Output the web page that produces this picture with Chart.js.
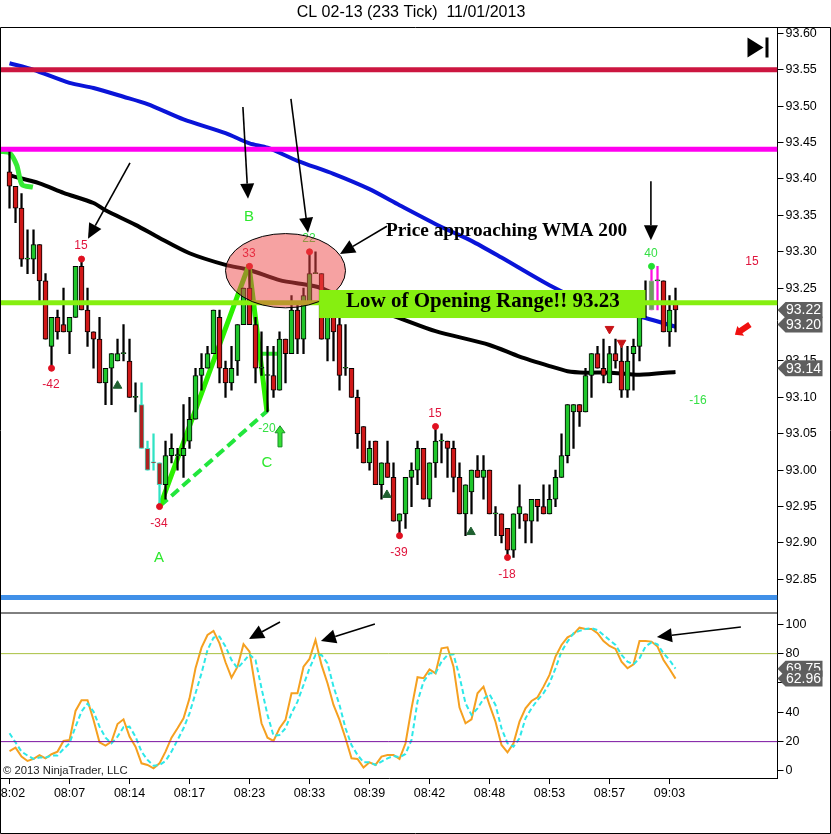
<!DOCTYPE html>
<html>
<head>
<meta charset="utf-8">
<title>CL 02-13 (233 Tick)</title>
<script src="https://cdn.jsdelivr.net/npm/chart.js@4"></script>
<style>
    html, body { margin: 0; padding: 0; background: #fff; }
    canvas { display: block; }
</style>
</head>
<body>
<canvas id="grafico" width="831" height="834"></canvas>
<script>
const timeLabels = ["08:02", "08:07", "08:14", "08:17", "08:23", "08:33", "08:39", "08:42", "08:48", "08:53", "08:57", "09:03"];

const opens = [
    93.41, 93.39, 93.36, 93.29, 93.29, 93.31, 93.26, 93.17, 93.21, 93.20,
    93.19, 93.21, 93.28, 93.22, 93.19, 93.18, 93.12, 93.14, 93.15, 93.16,
    93.15, 93.10, 93.09, 93.03, 93.01, 93.01, 92.98, 93.02, 93.02, 93.02,
    93.04, 93.07, 93.13, 93.14, 93.16, 93.21, 93.14, 93.12, 93.15, 93.20,
    93.25, 93.20, 93.14, 93.13, 93.13, 93.11, 93.18, 93.16, 93.22, 93.18,
    93.23, 93.27, 93.27, 93.18, 93.23, 93.20, 93.14, 93.14, 93.10, 93.06,
    93.01, 93.04, 92.98, 93.01, 92.99, 92.93, 92.94, 92.99, 93.00, 93.03,
    92.96, 93.01, 93.04, 93.04, 93.03, 92.99, 92.94, 92.97, 93.00, 92.99,
    93.00, 92.94, 92.94, 92.92, 92.89, 92.94, 92.94, 92.93, 92.96, 92.95,
    92.94, 92.96, 92.99, 93.02, 93.08, 93.09, 93.08, 93.13, 93.16, 93.14,
    93.12, 93.16, 93.15, 93.11, 93.16, 93.17, 93.23, 93.22, 93.26, 93.26,
    93.19, 93.23
];
const closes = [
    93.39, 93.36, 93.29, 93.29, 93.31, 93.26, 93.18, 93.21, 93.19, 93.19,
    93.21, 93.28, 93.22, 93.19, 93.18, 93.12, 93.14, 93.16, 93.16, 93.16,
    93.10, 93.10, 93.03, 93.00, 93.01, 92.98, 93.02, 93.03, 93.02, 93.03,
    93.07, 93.13, 93.14, 93.16, 93.22, 93.14, 93.12, 93.14, 93.20, 93.25,
    93.20, 93.14, 93.14, 93.13, 93.11, 93.18, 93.16, 93.22, 93.18, 93.24,
    93.27, 93.27, 93.18, 93.22, 93.19, 93.13, 93.14, 93.10, 93.05, 93.01,
    93.03, 92.98, 93.01, 92.99, 92.93, 92.94, 92.99, 93.00, 93.03, 92.96,
    93.01, 93.04, 93.04, 93.03, 92.99, 92.94, 92.98, 93.00, 92.99, 93.00,
    92.94, 92.94, 92.91, 92.89, 92.94, 92.95, 92.93, 92.96, 92.95, 92.94,
    92.96, 92.99, 93.02, 93.09, 93.09, 93.08, 93.13, 93.16, 93.14, 93.13,
    93.16, 93.15, 93.11, 93.15, 93.17, 93.22, 93.23, 93.26, 93.26, 93.19,
    93.22, 93.22
];
const highs = [
    93.44, 93.39, 93.38, 93.33, 93.33, 93.31, 93.27, 93.21, 93.22, 93.25,
    93.21, 93.28, 93.29, 93.25, 93.19, 93.21, 93.14, 93.16, 93.18, 93.20,
    93.18, 93.12, 93.12, 93.04, 93.05, 93.01, 93.04, 93.05, 93.03, 93.09,
    93.10, 93.14, 93.16, 93.17, 93.22, 93.22, 93.15, 93.17, 93.20, 93.25,
    93.28, 93.21, 93.19, 93.17, 93.17, 93.19, 93.18, 93.24, 93.23, 93.25,
    93.30, 93.30, 93.27, 93.23, 93.23, 93.21, 93.20, 93.14, 93.11, 93.06,
    93.04, 93.04, 93.01, 93.04, 93.01, 92.94, 92.99, 93.01, 93.04, 93.03,
    93.01, 93.06, 93.05, 93.04, 93.04, 93.01, 92.98, 93.00, 93.02, 93.02,
    93.00, 92.95, 92.94, 92.92, 92.94, 92.98, 92.94, 92.96, 92.96, 92.98,
    92.98, 93.00, 93.05, 93.09, 93.09, 93.09, 93.14, 93.16, 93.17, 93.18,
    93.17, 93.18, 93.17, 93.17, 93.18, 93.22, 93.26, 93.28, 93.28, 93.26,
    93.24, 93.25
];
const lows = [
    93.36, 93.34, 93.28, 93.27, 93.27, 93.23, 93.18, 93.14, 93.18, 93.19,
    93.16, 93.21, 93.22, 93.17, 93.14, 93.12, 93.09, 93.09, 93.15, 93.15,
    93.10, 93.08, 93.03, 93.00, 93.00, 92.95, 92.96, 93.01, 93.00, 92.99,
    93.03, 93.07, 93.11, 93.14, 93.16, 93.12, 93.10, 93.11, 93.13, 93.20,
    93.20, 93.12, 93.13, 93.08, 93.10, 93.11, 93.12, 93.16, 93.16, 93.16,
    93.23, 93.27, 93.18, 93.15, 93.15, 93.11, 93.13, 93.10, 93.03, 93.01,
    93.00, 92.98, 92.96, 92.99, 92.93, 92.91, 92.92, 92.95, 92.98, 92.96,
    92.95, 92.99, 93.01, 92.99, 92.97, 92.94, 92.91, 92.94, 92.99, 92.96,
    92.94, 92.91, 92.90, 92.88, 92.88, 92.92, 92.90, 92.90, 92.93, 92.94,
    92.94, 92.95, 92.99, 93.01, 93.03, 93.06, 93.08, 93.10, 93.14, 93.12,
    93.12, 93.14, 93.10, 93.10, 93.11, 93.15, 93.21, 93.22, 93.22, 93.19,
    93.17, 93.19
];

const wmaBlueBars = [0, 4, 10, 14, 19, 23, 29, 36, 40, 43, 48, 54, 60, 65, 72, 77, 82, 90, 96, 102, 106, 111];
const wmaBlue = [93.559, 93.55, 93.532, 93.525, 93.513, 93.503, 93.482, 93.463, 93.449, 93.443, 93.425, 93.407, 93.386, 93.364, 93.334, 93.315, 93.292, 93.254, 93.231, 93.216, 93.209, 93.197];
const wmaBlackBars = [0, 5, 9, 14, 16, 21, 25, 30, 36, 40, 45, 50, 52, 57, 65, 71, 80, 85, 90, 93, 96, 100, 105, 111];
const wmaBlack = [93.405, 93.394, 93.381, 93.367, 93.357, 93.337, 93.319, 93.298, 93.282, 93.275, 93.261, 93.254, 93.25, 93.232, 93.209, 93.191, 93.172, 93.156, 93.143, 93.136, 93.134, 93.134, 93.131, 93.135];

const stochK = [
    13.6, 15.9, 9.8, 6.8, 8.2, 10.7, 8.6, 11.4, 13.2, 20.5,
    21.1, 40.9, 48.2, 48.2, 34.8, 19.5, 17.3, 20, 32, 35.2,
    23.4, 16.6, 5.2, 4.1, 1.8, 5.2, 13.2, 22.7, 29.1, 35.9,
    49.5, 70, 84.1, 92.7, 95.5, 87, 74.1, 63.6, 71.1, 86.4,
    81.4, 56.4, 32.5, 22.7, 20.5, 29.1, 34.8, 53, 53, 71.1,
    76.4, 89.3, 72.3, 59.8, 45, 34.8, 22.3, 8.6, 8.2, 2.3,
    5.9, 4.1, 9.8, 10.9, 10.9, 8.2, 18.9, 42.7, 63.9, 63.2,
    69.3, 66.6, 83.6, 84.3, 71.1, 43.2, 32.5, 35.2, 53, 57.5,
    45, 33.6, 17.7, 12.7, 18.9, 33.6, 42.7, 47.7, 50.2, 57.5,
    65.5, 78, 85.9, 91.1, 93.2, 97.7, 96.8, 96.8, 93.9, 88.6,
    85.2, 83.2, 74.5, 70, 72.7, 88.6, 88.6, 88.2, 84.8, 75.7,
    69.5, 62.96
];
const stochD = [
    25.7, 19.5, 13.2, 10.5, 8.2, 9.1, 9.1, 10.5, 10.5, 15,
    18.9, 30.2, 40.5, 45.9, 40.5, 30.2, 22.7, 18.9, 23.4, 29.8,
    30.2, 23.4, 13.2, 7.5, 3.6, 4.1, 6.8, 13.2, 21.1, 29.1,
    39.3, 53, 66.6, 82.5, 90.9, 91.6, 84.8, 75.7, 70, 74.5,
    79.5, 75.7, 56.4, 38.2, 24.1, 24.5, 29.1, 39.3, 47.3, 58.6,
    70, 79.1, 79.1, 73.4, 57.5, 45, 29.1, 17.7, 10.9, 5.9,
    5.9, 4.1, 6.4, 8.6, 10.2, 9.3, 11.6, 21.1, 47.3, 60.9,
    66.6, 66.6, 74.5, 79.1, 79.5, 64.3, 46.1, 38.2, 42.7, 49.1,
    52.3, 45, 29.1, 18.9, 16.6, 22.3, 35.9, 42.7, 48.4, 53,
    59.8, 70, 81.4, 88.2, 93.9, 95.5, 96.8, 97.3, 96.1, 92.7,
    89.3, 85.9, 79.1, 74.5, 72.7, 76.8, 84.8, 87.7, 86.4, 80.2,
    75.7, 69.75
];

// niveles horizontales
const levelRed = 93.55;
const levelMagenta = 93.441;
const levelLime = 93.23;
const levelBlue = 92.825;
const stochUpper = 80;
const stochLower = 20;

// ABC dibujado a mano
const abcBars = [25.1, 39.9, 42.9];
const abcPrices = [92.951, 93.282, 93.081];
const hookBars = [-1.5, 0, 1.2, 2.1, 3.9];
const hookPrices = [93.438, 93.436, 93.419, 93.392, 93.389];
const stubBars = [41.9, 45.1];
const stubPrices = [93.16, 93.16];

const redDotBars = [7, 12, 25, 40, 50, 65, 71, 83];
const redDotPrices = [93.14, 93.29, 92.95, 93.28, 93.30, 92.91, 93.06, 92.88];
const greenDotBars = [107];
const greenDotPrices = [93.28];
const upMarkBars = [18, 62.9, 76.9];
const upMarkPrices = [93.116, 92.966, 92.915];
const downMarkBars = [100, 102];
const downMarkPrices = [93.194, 93.175];

const swingTexts = ["15", "33", "22", "-42", "-34", "-39", "15", "-18", "15", "-20", "40", "-16"];
const swingBars = [11.9, 39.9, 49.9, 6.9, 24.9, 64.9, 70.9, 82.9, 123.75, 42.9, 106.9, 114.75];
const swingPrices = [93.308, 93.298, 93.318, 93.117, 92.926, 92.886, 93.077, 92.856, 93.286, 93.057, 93.298, 93.096];
const swingGreen = ["22", "-20", "40", "-16"];

const abcTexts = ["A", "B", "C"];
const abcTextBars = [24.9, 39.9, 42.9];
const abcTextPrices = [92.88, 93.348, 93.01];

// flechas: barra y valor de cola, barra y valor de punta
const priceArrows = [
    [20.08, 93.422, 13.08, 93.318],
    [38.9, 93.499, 39.75, 93.373],
    [46.9, 93.51, 49.75, 93.326],
    [62.9, 93.335, 55.08, 93.297],
    [106.9, 93.397, 106.9, 93.316]
];
const stochArrows = [
    [45.08, 101.6, 39.9, 90],
    [60.9, 100.2, 51.9, 88.6],
    [121.9, 98.2, 107.9, 91.3]
];

const priceTags = [93.22, 93.20, 93.14];
const stochTags = [69.75, 62.96];

const barList = opens.map((_, i) => i);
const turquoiseBars = [22, 23, 24, 25];
const magentaBars = [107, 108];

function puntos(xs, ys) {
    return xs.map((x, i) => ({ x, y: ys[i] }));
}

function lineaNivel(value, color, width, yAxisID, order) {
    return {
        type: 'line',
        data: [{ x: -2, y: value }, { x: 128, y: value }],
        borderColor: color,
        borderWidth: width,
        pointRadius: 0,
        yAxisID,
        order
    };
}

function marcas(data, color, radius, style, rotation, order) {
    return {
        type: 'line',
        data,
        showLine: false,
        pointStyle: style,
        rotation,
        pointRadius: radius,
        pointBackgroundColor: color,
        pointBorderColor: color,
        yAxisID: 'price',
        order
    };
}

function curva(data, color, width, yAxisID, order, extra) {
    return Object.assign({
        type: 'line',
        data,
        borderColor: color,
        borderWidth: width,
        pointRadius: 0,
        tension: 0.25,
        yAxisID,
        order
    }, extra);
}

function colorMecha(i) {
    if (turquoiseBars.includes(i)) return '#2fe3c4';
    if (magentaBars.includes(i)) return '#ff10e0';
    return '#000';
}

function colorCuerpo(i) {
    if (i === 107) return '#6f9e5f';
    if (turquoiseBars.includes(i)) return '#b0211f';
    return closes[i] >= opens[i] ? '#1fc62b' : '#d01818';
}

function bordeCuerpo(i) {
    if (i === 107) return '#9a9a9a';
    if (turquoiseBars.includes(i)) return '#45d8c0';
    return '#000';
}

function dibujarFlecha(ctx, x1, y1, x2, y2) {
    const ang = Math.atan2(y2 - y1, x2 - x1);
    const largo = 15;
    const ancho = 7;
    const bx = x2 - Math.cos(ang) * largo;
    const by = y2 - Math.sin(ang) * largo;
    ctx.strokeStyle = '#000';
    ctx.fillStyle = '#000';
    ctx.lineWidth = 1.6;
    ctx.beginPath();
    ctx.moveTo(x1, y1);
    ctx.lineTo(bx, by);
    ctx.stroke();
    ctx.beginPath();
    ctx.moveTo(x2, y2);
    ctx.lineTo(bx + Math.sin(ang) * ancho, by - Math.cos(ang) * ancho);
    ctx.lineTo(bx - Math.sin(ang) * ancho, by + Math.cos(ang) * ancho);
    ctx.closePath();
    ctx.fill();
}

function flechaGruesa(ctx, x1, y1, x2, y2, fill, stroke, cuerpo, punta) {
    const ang = Math.atan2(y2 - y1, x2 - x1);
    ctx.save();
    ctx.translate(x2, y2);
    ctx.rotate(ang);
    const len = Math.hypot(x2 - x1, y2 - y1);
    ctx.beginPath();
    ctx.moveTo(0, 0);
    ctx.lineTo(-7, punta);
    ctx.lineTo(-7, cuerpo);
    ctx.lineTo(-len, cuerpo);
    ctx.lineTo(-len, -cuerpo);
    ctx.lineTo(-7, -cuerpo);
    ctx.lineTo(-7, -punta);
    ctx.closePath();
    ctx.fillStyle = fill;
    ctx.fill();
    if (stroke) {
        ctx.strokeStyle = stroke;
        ctx.lineWidth = 1;
        ctx.stroke();
    }
    ctx.restore();
}

function etiquetaValor(ctx, scale, value, x) {
    const y = scale.getPixelForValue(value);
    ctx.fillStyle = '#5f5f5f';
    ctx.beginPath();
    ctx.moveTo(x, y);
    ctx.lineTo(x + 8, y - 8);
    ctx.lineTo(x + 45, y - 8);
    ctx.lineTo(x + 45, y + 8);
    ctx.lineTo(x + 8, y + 8);
    ctx.closePath();
    ctx.fill();
    ctx.fillStyle = '#fff';
    ctx.font = '14px "Liberation Sans"';
    ctx.textAlign = 'center';
    ctx.textBaseline = 'middle';
    ctx.fillText(value.toFixed(2), x + 26, y + 0.5);
}

// lo que NinjaTrader dibuja encima de las series
const anotaciones = {
    id: 'anotaciones',
    afterLayout(chart) {
        // el primer rotulo de hora se corta en el borde, no debe empujar el area
        const area = chart.chartArea;
        const x = chart.scales.x;
        area.left = 1;
        area.width = area.right - area.left;
        x.left = area.left;
        x.width = x.right - x.left;
        x.configure();
    },
    afterDatasetsDraw(chart) {
        const { ctx } = chart;
        const x = chart.scales.x;
        const price = chart.scales.price;
        const stoch = chart.scales.stoch;

        ctx.save();
        ctx.textAlign = 'center';
        ctx.textBaseline = 'middle';
        ctx.font = '12px "Liberation Sans"';
        swingTexts.forEach((txt, i) => {
            ctx.fillStyle = swingGreen.includes(txt) ? '#35e045' : '#e0143c';
            ctx.fillText(txt, x.getPixelForValue(swingBars[i]), price.getPixelForValue(swingPrices[i]));
        });
        ctx.font = '15px "Liberation Sans"';
        ctx.fillStyle = '#2de82d';
        abcTexts.forEach((txt, i) => {
            ctx.fillText(txt, x.getPixelForValue(abcTextBars[i]), price.getPixelForValue(abcTextPrices[i]));
        });

        // elipse sobre la zona de precio
        const cx = x.getPixelForValue(46);
        const cy = price.getPixelForValue(93.274);
        const rx = x.getPixelForValue(56) - cx;
        const ry = price.getPixelForValue(93.223) - cy;
        ctx.beginPath();
        ctx.ellipse(cx, cy, rx, ry, 0, 0, Math.PI * 2);
        ctx.fillStyle = 'rgba(238, 70, 70, 0.5)';
        ctx.fill();
        ctx.strokeStyle = '#000';
        ctx.lineWidth = 1;
        ctx.stroke();

        // banda con el texto del rango
        const bx1 = x.getPixelForValue(51.6);
        const bx2 = x.getPixelForValue(106);
        const by1 = price.getPixelForValue(93.2475);
        const by2 = price.getPixelForValue(93.209);
        ctx.fillStyle = '#86ef10';
        ctx.fillRect(bx1, by1, bx2 - bx1, by2 - by1);
        ctx.fillStyle = '#000';
        ctx.font = 'bold 21px "Liberation Serif"';
        ctx.fillText('Low of Opening Range!! 93.23', x.getPixelForValue(78.9), price.getPixelForValue(93.231));
        ctx.font = 'bold 19.3px "Liberation Serif"';
        ctx.textAlign = 'left';
        ctx.fillText('Price approaching WMA 200', x.getPixelForValue(62.75), price.getPixelForValue(93.3286));

        priceArrows.forEach(a => dibujarFlecha(ctx, x.getPixelForValue(a[0]), price.getPixelForValue(a[1]), x.getPixelForValue(a[2]), price.getPixelForValue(a[3])));
        stochArrows.forEach(a => dibujarFlecha(ctx, x.getPixelForValue(a[0]), stoch.getPixelForValue(a[1]), x.getPixelForValue(a[2]), stoch.getPixelForValue(a[3])));

        flechaGruesa(ctx, x.getPixelForValue(45.08), price.getPixelForValue(93.032), x.getPixelForValue(45.08), price.getPixelForValue(93.061), '#35e035', '#1c8f2a', 2, 5);
        flechaGruesa(ctx, x.getPixelForValue(123.4), price.getPixelForValue(93.2), x.getPixelForValue(120.9), price.getPixelForValue(93.186), '#f01010', null, 3, 6);

        ctx.font = '11.3px "Liberation Sans"';
        ctx.fillStyle = '#222';
        ctx.textAlign = 'left';
        ctx.fillText('© 2013 NinjaTrader, LLC', 3, chart.chartArea.bottom - 7);
        ctx.restore();
    },
    afterDraw(chart) {
        const { ctx, chartArea } = chart;
        const price = chart.scales.price;
        const stoch = chart.scales.stoch;

        ctx.save();
        ctx.strokeStyle = '#000';
        ctx.lineWidth = 1;
        ctx.beginPath();
        ctx.moveTo(0.5, chartArea.top);
        ctx.lineTo(830.5, chartArea.top);
        ctx.moveTo(0.5, chartArea.top);
        ctx.lineTo(0.5, 833.5);
        ctx.lineTo(830.5, 833.5);
        ctx.lineTo(830.5, chartArea.top);
        ctx.moveTo(0.5, stoch.top);
        ctx.lineTo(chartArea.right, stoch.top);
        ctx.stroke();

        ctx.fillStyle = '#000';
        ctx.textAlign = 'center';
        ctx.textBaseline = 'middle';
        ctx.font = '16px "Liberation Sans"';
        ctx.fillText('CL 02-13 (233 Tick)  11/01/2013', 411, 13);

        // icono de ir al final
        const ix = chartArea.right - 30;
        const iy = chartArea.top + 10;
        ctx.beginPath();
        ctx.moveTo(ix, iy);
        ctx.lineTo(ix + 16, iy + 10);
        ctx.lineTo(ix, iy + 20);
        ctx.closePath();
        ctx.fill();
        ctx.fillRect(ix + 18, iy, 3, 20);

        priceTags.forEach(v => etiquetaValor(ctx, price, v, chartArea.right));
        stochTags.forEach(v => etiquetaValor(ctx, stoch, v, chartArea.right));
        ctx.restore();
    }
};

const fuenteEjes = { family: '"Liberation Sans"', size: 12.5 };

function ejeY(min, max, stepSize, weight, decimals) {
    return {
        type: 'linear',
        position: 'right',
        stack: 'paneles',
        stackWeight: weight,
        min,
        max,
        afterFit: scale => {
            scale.width = 53.5;
            scale.paddingTop = 0;
            scale.paddingBottom = 0;
        },
        grid: { drawOnChartArea: false, tickLength: 6, tickColor: '#000' },
        border: { color: '#000', width: 1 },
        ticks: {
            stepSize,
            autoSkip: false,
            includeBounds: false,
            padding: 2,
            color: '#000',
            font: fuenteEjes,
            callback: v => v.toFixed(decimals)
        }
    };
}

new Chart(document.getElementById('grafico'), {
    type: 'bar',
    data: {
        datasets: [
            lineaNivel(levelRed, '#cc1640', 5, 'price', 0),
            lineaNivel(levelMagenta, '#ff00f0', 5, 'price', 0),
            lineaNivel(levelLime, '#86ef10', 5, 'price', 0),
            lineaNivel(levelBlue, '#4090e8', 5, 'price', 0),
            lineaNivel(stochUpper, '#a8c040', 1, 'stoch', 0),
            lineaNivel(stochLower, '#7a10a0', 1, 'stoch', 0),
            marcas(puntos(redDotBars, redDotPrices), '#e01020', 3, 'circle', 0, 1),
            marcas(puntos(greenDotBars, greenDotPrices), '#22e030', 3, 'circle', 0, 1),
            marcas(puntos(upMarkBars, upMarkPrices), '#1f6030', 5, 'triangle', 0, 1),
            marcas(puntos(downMarkBars, downMarkPrices), '#c81418', 5, 'triangle', 180, 1),
            {
                type: 'bar',
                data: barList.map(i => ({ x: i, y: [opens[i], closes[i]] })),
                backgroundColor: barList.map(colorCuerpo),
                borderColor: barList.map(bordeCuerpo),
                borderWidth: 1,
                borderSkipped: false,
                barThickness: 5,
                minBarLength: 1,
                grouped: false,
                yAxisID: 'price',
                order: 2
            },
            {
                type: 'bar',
                data: barList.map(i => ({ x: i, y: [lows[i], highs[i]] })),
                backgroundColor: barList.map(colorMecha),
                borderWidth: 0,
                barThickness: 1.6,
                grouped: false,
                yAxisID: 'price',
                order: 3
            },
            curva(puntos(abcBars.slice(0, 2), abcPrices.slice(0, 2)), '#2cf000', 5, 'price', 4),
            curva(puntos(abcBars.slice(1), abcPrices.slice(1)), '#2cf000', 5, 'price', 4),
            curva(puntos([abcBars[0], abcBars[2]], [abcPrices[0], abcPrices[2]]), '#22e63c', 4, 'price', 4, { borderDash: [10, 5] }),
            curva(puntos(hookBars, hookPrices), '#35ea35', 5, 'price', 4),
            curva(puntos(stubBars, stubPrices), '#35ea35', 4, 'price', 4),
            curva(puntos(wmaBlueBars, wmaBlue), '#0a14d8', 4, 'price', 5),
            curva(puntos(wmaBlackBars, wmaBlack), '#000', 4, 'price', 5),
            curva(puntos(barList, stochD), '#2de8e8', 2, 'stoch', 1, { borderDash: [5, 3], tension: 0 }),
            curva(puntos(barList, stochK), '#f5a020', 2, 'stoch', 1, { tension: 0 })
        ]
    },
    plugins: [anotaciones],
    options: {
        responsive: false,
        devicePixelRatio: 1,
        animation: false,
        events: [],
        layout: { padding: { left: 1, top: 27.5, right: 0, bottom: 1 } },
        plugins: {
            legend: { display: false },
            title: { display: false },
            tooltip: { enabled: false }
        },
        scales: {
            x: {
                type: 'linear',
                min: -1.42,
                max: 128,
                offset: false,
                afterFit: scale => { scale.height = 55; },
                afterBuildTicks: scale => {
                    scale.ticks = timeLabels.map((_, i) => ({ value: i * 10 }));
                },
                grid: { offset: false, drawOnChartArea: false, tickLength: 6, tickColor: '#000' },
                border: { color: '#000', width: 1 },
                ticks: {
                    autoSkip: false,
                    maxRotation: 0,
                    padding: 2,
                    color: '#000',
                    font: fuenteEjes,
                    callback: v => timeLabels[v / 10]
                }
            },
            price: ejeY(92.8038, 93.6081, 0.05, 585.5, 2),
            stoch: ejeY(-4.8, 107.7, 20, 165, 0)
        }
    }
});
</script>
</body>
</html>
